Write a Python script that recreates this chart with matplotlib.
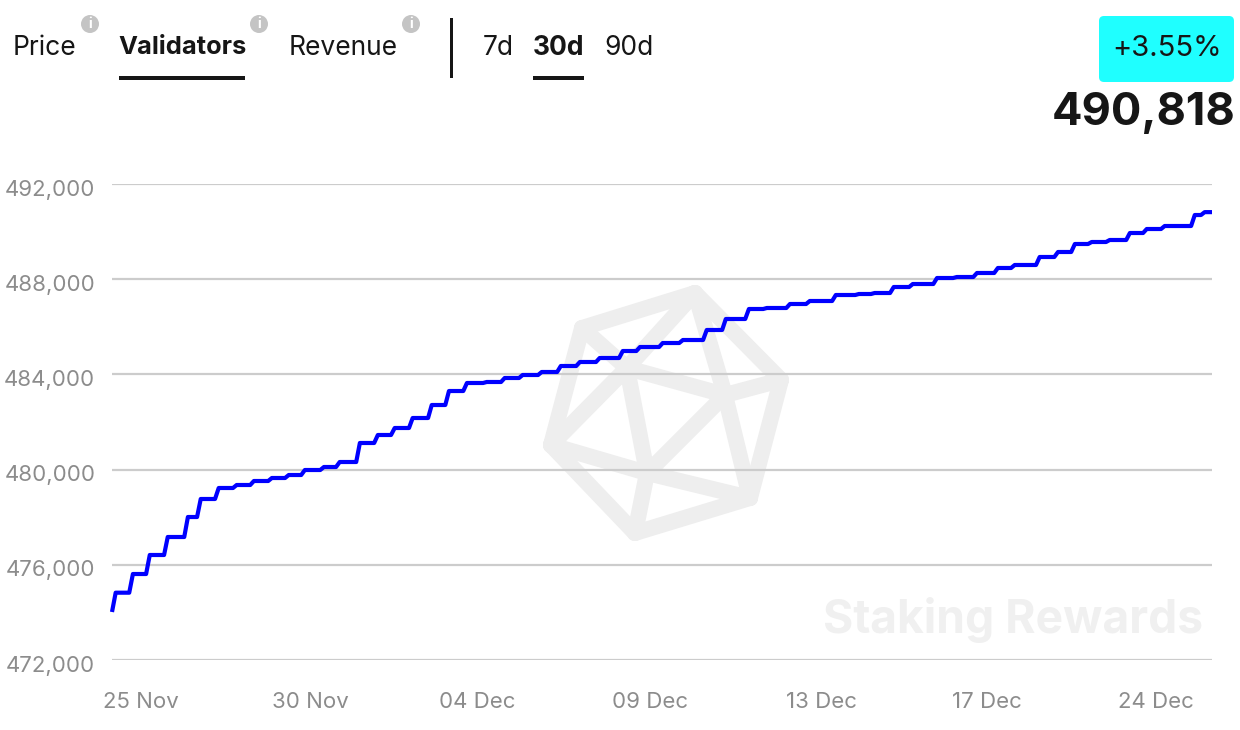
"""
Validators chart, 30 day view, recreated with matplotlib.
"""
import numpy as np
import matplotlib
matplotlib.use('Agg')
import matplotlib.pyplot as plt
from matplotlib.patches import Circle, FancyBboxPatch, Rectangle
from matplotlib.transforms import ScaledTranslation

plt.rcParams['font.family'] = ['Inter', 'DejaVu Sans']

# Step starts, in days along the axis (axis runs 0 to 30)
step_days = [0.0, 0.05, 0.52, 0.98, 1.47, 2.02, 2.37, 2.86, 3.35, 3.82, 4.31, 4.77,
             5.21, 5.73, 6.16, 6.71, 7.2, 7.66, 8.15, 8.67, 9.14, 9.63, 10.17, 10.66,
             11.15, 11.67, 12.19, 12.71, 13.25, 13.88, 14.35, 14.97, 15.52, 16.17, 16.69,
             17.32, 17.81, 18.44, 18.98, 19.69, 20.32, 20.75, 21.27, 21.79, 22.45, 22.99,
             23.54, 24.11, 24.57, 25.25, 25.75, 26.21, 26.67, 27.16, 27.71, 28.17, 28.66,
             29.48, 29.75]
validators = [474017, 474828, 475613, 476412, 477168, 478008, 478765, 479227, 479353,
              479521, 479647, 479773, 479983, 480109, 480319, 481118, 481454, 481748,
              482168, 482714, 483302, 483639, 483681, 483849, 483975, 484101, 484353,
              484521, 484689, 484983, 485151, 485319, 485445, 485866, 486328, 486748,
              486790, 486958, 487084, 487336, 487378, 487420, 487672, 487798, 488050,
              488092, 488261, 488471, 488597, 488933, 489143, 489479, 489563, 489647,
              489941, 490109, 490235, 490697, 490818]
end_day = 30.0

y_ticks = [472000, 476000, 480000, 484000, 488000, 492000]
x_tick_days = [0.79, 5.4, 9.95, 14.67, 19.36, 23.86, 28.47]
x_tick_labels = ['25 Nov', '30 Nov', '04 Dec', '09 Dec', '13 Dec', '17 Dec', '24 Dec']

INK = '#161616'
GREY = '#8c8c8c'
W, H = 1240, 730

fig = plt.figure(figsize=(W / 100, H / 100), dpi=100)

# Page layer in pixel coordinates, for the header and the watermark
page = fig.add_axes([0, 0, 1, 1], zorder=0)
page.set_xlim(0, W)
page.set_ylim(H, 0)
page.axis('off')

# Watermark
top, ul, left, bottom, lr, right = (695, 293), (582, 328), (551, 445), (635, 533), (750, 498), (781, 380)
a, b, c = (627, 368), (725, 395), (647, 473)
edges = [(top, ul), (ul, left), (left, bottom), (bottom, lr), (lr, right), (right, top),
         (top, a), (a, left), (ul, a), (a, b), (b, right), (top, b), (b, lr),
         (a, c), (b, c), (left, c), (c, lr), (c, bottom)]
for p, q in edges:
    page.plot([p[0], q[0]], [p[1], q[1]], color='#eeeeee', lw=11.5, solid_capstyle='round')
page.text(1203, 633, 'Staking Rewards', color='#f0f0f0', fontsize=33.3, fontweight='bold',
          ha='right', va='baseline')

# Tabs
page.text(13, 48, 'Price', color=INK, fontsize=19, va='center')
page.text(118, 48, 'Validators', color=INK, fontsize=18.3, fontweight='bold', va='center')
page.text(289, 48, 'Revenue', color=INK, fontsize=19, va='center')
page.text(483, 48, '7d', color=INK, fontsize=19, va='center')
page.text(533, 48, '30d', color=INK, fontsize=19, fontweight='bold', va='center')
page.text(604, 48, '90d', color=INK, fontsize=19, va='center')

for cx in [90, 259, 411]:
    page.add_patch(Circle((cx, 24), 9, color='#c4c4c4', lw=0))
    page.text(cx, 24.5, 'i', color='white', fontsize=10, fontweight='bold', ha='center', va='center')

page.add_patch(Rectangle((119, 76), 126, 4, color=INK, lw=0))
page.add_patch(Rectangle((533, 76), 51, 4, color=INK, lw=0))
page.add_patch(Rectangle((450, 18), 3, 60, color=INK, lw=0))

# Change badge and latest value
page.add_patch(FancyBboxPatch((1103, 20), 127, 58, boxstyle='round,pad=4,rounding_size=5',
                              fc='#1fffff', ec='none'))
page.text(1167, 49, '+3.55%', color=INK, fontsize=21, ha='center', va='center')
page.text(1235, 113, '490,818', color=INK, fontsize=32.5, fontweight='bold', ha='right', va='center')

# Chart
ax = fig.add_axes([112 / W, 1 - 660 / H, 1100 / W, 476 / H], zorder=1)
ax.patch.set_alpha(0)
ax.set_xlim(0, end_day)
ax.set_ylim(y_ticks[0], y_ticks[-1])

ax.set_yticks(y_ticks)
ax.set_yticklabels([f'{v:,}' for v in y_ticks])
ax.set_xticks(x_tick_days)
ax.set_xticklabels(x_tick_labels)
ax.tick_params(axis='both', length=0, labelcolor=GREY, labelsize=16)
ax.tick_params(axis='y', pad=12)
ax.tick_params(axis='x', pad=23)
ax.grid(axis='y', color='#cccccc', lw=1.6)
ax.set_axisbelow(True)
for spine in ax.spines.values():
    spine.set_visible(False)

# y labels sit a little below their grid lines
nudge = ScaledTranslation(0, -3.5 / 72 * 0.72, fig.dpi_scale_trans)
for label in ax.get_yticklabels():
    label.set_transform(label.get_transform() + nudge)

# Each rise leans slightly, as in the original curve
rise = 0.05
line_x = [step_days[0]]
line_y = [validators[0]]
for d, v in zip(step_days[1:], validators[1:]):
    line_x += [d - rise, d + rise]
    line_y += [line_y[-1], v]
line_x.append(end_day)
line_y.append(validators[-1])
ax.plot(np.array(line_x), np.array(line_y), color='#0000ff', lw=3, clip_on=False,
        solid_joinstyle='round', solid_capstyle='butt')

fig.savefig('out.png', dpi=100)
